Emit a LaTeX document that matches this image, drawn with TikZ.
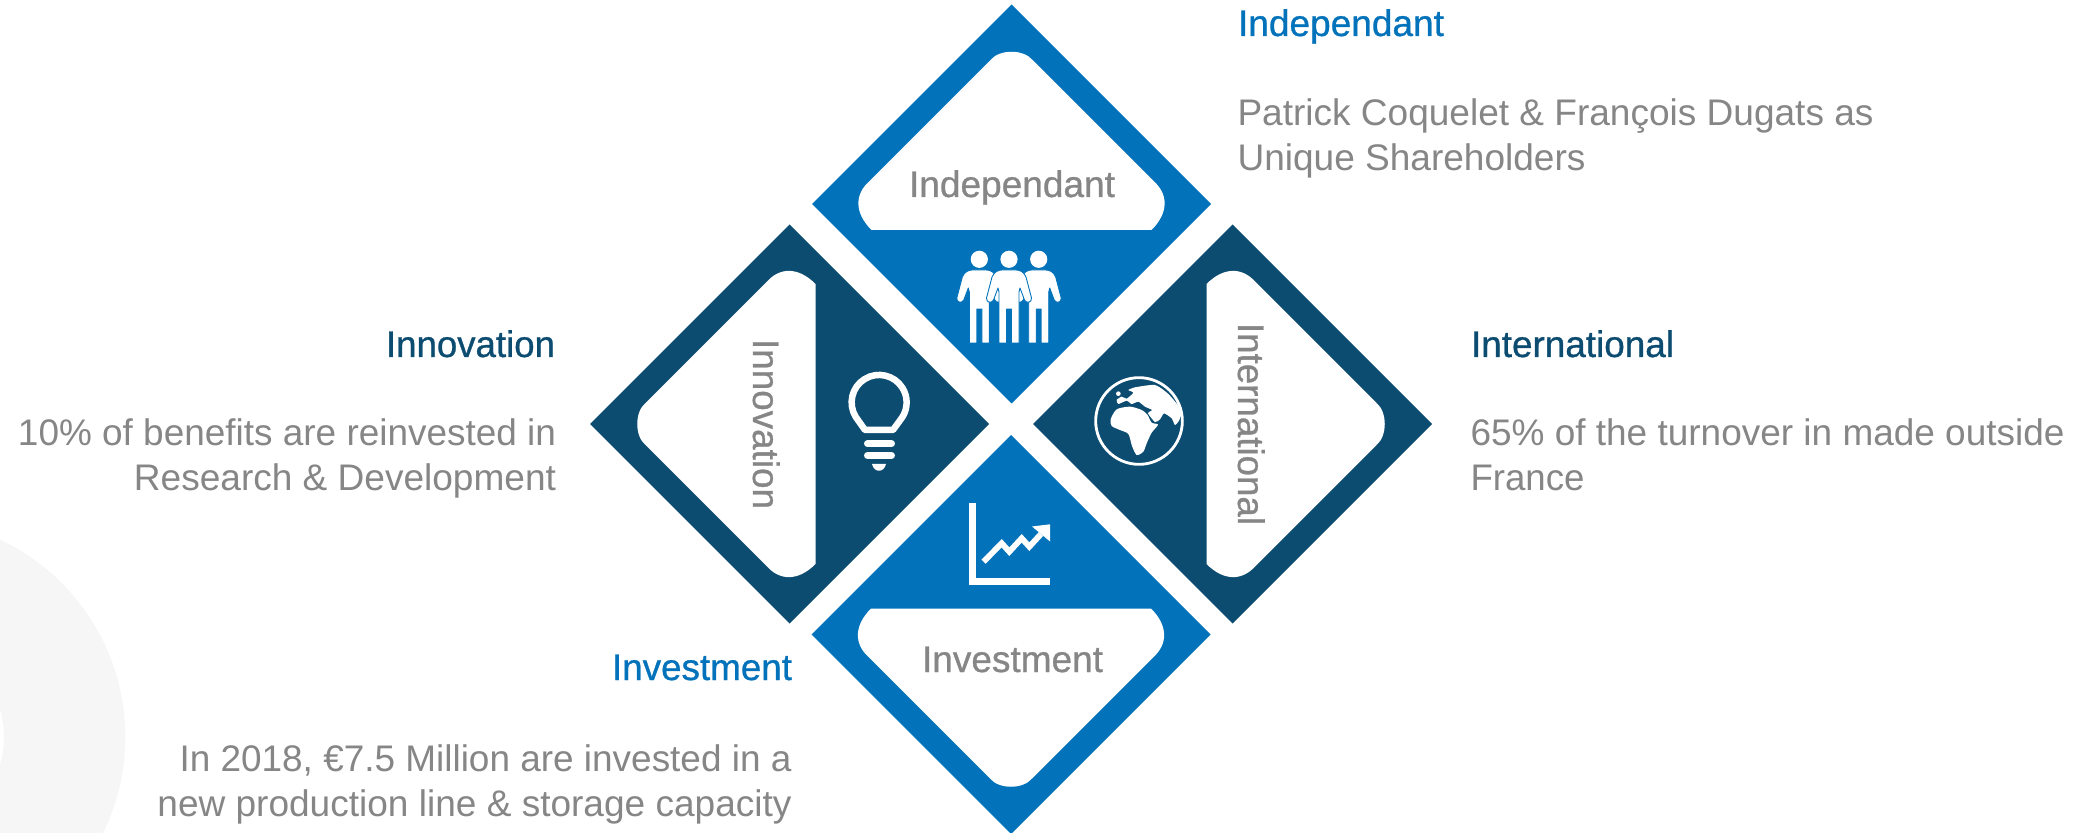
\documentclass[tikz,border=0pt]{standalone}
\usepackage{fontspec}
\setmainfont{Liberation Sans}
\newfontfamily\strongfont{Liberation Sans}[FakeBold=0.8]
\definecolor{tileblue}{HTML}{0272BA}
\definecolor{tiledark}{HTML}{0C4C71}
\definecolor{txtgrey}{HTML}{868686}
\definecolor{ringgrey}{HTML}{F6F6F6}
\newdimen\pxu \pxu=0.5pt
\newcommand\fitw[2]{\resizebox{#1\pxu}{\height}{#2}}
\newcommand\tile[4]{%
  \begin{scope}[shift={(#1,#2)},rotate=#3]
    \fill[#4] (0,-199.5)--(199.5,0)--(0,199.5)--(-199.5,0)--cycle;
    \fill[white] (-140,26) .. controls (-158,8) and (-156,-10) .. (-143,-22) -- (-21,-144)
      .. controls (-12,-155) and (12,-155) .. (21,-144) -- (143,-22)
      .. controls (156,-10) and (158,8) .. (140,26) -- cycle;
  \end{scope}}
\newcommand\person[1]{%
  \begin{scope}[shift={(#1,240)}]
    \fill[white] (0,19.3) circle[radius=8.6];
    \filldraw[white,line join=round,draw=tileblue,line width=0.45pt]
      (-10,103) -- (-10,52) -- (-11,48) -- (-15.5,60) .. controls (-17,63.5) and (-23,63) .. (-22.5,58)
      -- (-17,37) .. controls (-15,32) and (-11,30) .. (-7,30) -- (7,30)
      .. controls (11,30) and (15,32) .. (17,37) -- (22.5,58)
      .. controls (23,63) and (17,63.5) .. (15.5,60) -- (11,48) -- (10,52) -- (10,103)
      -- (2.5,103) -- (2.5,69) -- (-2.5,69) -- (-2.5,103) -- cycle;
  \end{scope}}
\tikzset{
  base text/.style={inner sep=0pt,outer sep=0pt},
  heading/.style={base text,font=\strongfont\fontsize{18.5}{22}\selectfont},
  bodytext/.style={base text,text=txtgrey,font=\fontsize{18.5}{22.5}\selectfont},
  tilelabel/.style={base text,text=txtgrey,font=\strongfont\fontsize{18.5}{22}\selectfont},
  iconline/.style={draw=white,line width=3.5pt,fill=none},
}
\begin{document}
\begin{tikzpicture}[x=0.5pt,y=-0.5pt]
\useasboundingbox (0,0) rectangle (2092,833);
\fill[white] (0,0) rectangle (2092,833);
% pale ring, lower left
\begin{scope}
  \clip (0,0) rectangle (2092,833);
  \fill[ringgrey,even odd rule] (-92.7,737) circle[radius=218] (-92.7,737) circle[radius=96.7];
\end{scope}
% tiles
\tile{1011.5}{204}{0}{tileblue}
\tile{789.5}{424}{90}{tiledark}
\tile{1232.5}{424}{-90}{tiledark}
\tile{1011}{634.5}{180}{tileblue}
% tile labels
\node[tilelabel,anchor=base west] (lblIndep) at (909,197) {\fitw{206}{Independant}};
\node[tilelabel,anchor=base west] (lblInvest) at (922,672) {\fitw{181}{Investment}};
\node[tilelabel,anchor=base west,rotate=-90] (lblInnov) at (753,339) {\fitw{170}{Innovation}};
\node[tilelabel,anchor=base west,rotate=-90] (lblInter) at (1238,323) {\fitw{202}{International}};
% people icon
\person{979.3}
\person{1038.7}
\person{1009}
% bulb icon
\draw[iconline,line width=3.25pt,line join=round]
  (865,430) -- (855.8,417) arc[start angle=212,end angle=-32,radius=13.75pt] -- (893,430) -- cycle;
\draw[iconline,line cap=round] (867.5,443.7) -- (891.5,443.7);
\draw[iconline,line cap=round] (867.5,455.5) -- (891.5,455.5);
\fill[white] (872,464) .. controls (874,473) and (884,473) .. (886,464) -- cycle;
% chart icon
\draw[iconline,line cap=butt] (972.5,503.5) -- (972.5,581.5) -- (1050,581.5);
\draw[iconline,line width=2.9pt,line join=miter] (983.5,561.7) -- (1001.7,543.3) -- (1009.3,551.7) -- (1021.7,538.3) -- (1029.3,546.7) -- (1041,534);
\fill[white] (1050,524.3) -- (1032,526.5) -- (1050,541.5) -- cycle;
% globe icon
\begin{scope}[shift={(1020,210)},x=0.16667pt,y=-0.16667pt]
  \draw[white,line width=1.4pt] (357,633) circle[radius=130];
  \fill[white] plot[smooth cycle,tension=.45] coordinates {(272,628) (290,598) (330,590) (365,600) (382,614) (395,638) (414,644) (395,668) (380,700) (370,725) (350,735) (336,708) (325,672) (300,660) (275,648)};
  \fill[white] plot[smooth cycle,tension=.35] coordinates {(345,532) (405,525) (445,552) (484,600) (478,630) (465,645) (455,625) (432,610) (420,628) (405,636) (384,610) (396,600) (375,590) (355,575) (335,582) (320,572) (295,582) (290,570) (305,560) (320,566) (340,548) (325,540)};
  \fill[white] (295,551) circle[radius=7];
\end{scope}
% headings
\node[heading,text=tileblue,anchor=base west] (hIndep) at (1238,36) {\fitw{206}{Independant}};
\node[heading,text=tiledark,anchor=base east] (hInnov) at (555,357) {\fitw{169}{Innovation}};
\node[heading,text=tiledark,anchor=base west] (hInter) at (1471,357) {\fitw{203}{International}};
\node[heading,text=tileblue,anchor=base east] (hInvest) at (792,680) {\fitw{180}{Investment}};
% body texts
\node[bodytext,anchor=base west,align=left] (bIndep) at (1237.5,171) {\fitw{636}{Patrick Coquelet \& François Dugats as}\\ \fitw{348}{Unique Shareholders}};
\node[bodytext,anchor=base east,align=right] (bInnov) at (556,491) {\fitw{538}{10\% of benefits are reinvested in}\\ \fitw{422}{Research \& Development}};
\node[bodytext,anchor=base west,align=left] (bInter) at (1470.5,491) {\fitw{594}{65\% of the turnover in made outside}\\ \fitw{114}{France}};
\node[bodytext,anchor=base east,align=right] (bInvest) at (791.5,816) {\fitw{612}{In 2018, €7.5 Million are invested in a}\\ \fitw{634}{new production line \& storage capacity}};
\end{tikzpicture}
\end{document}
